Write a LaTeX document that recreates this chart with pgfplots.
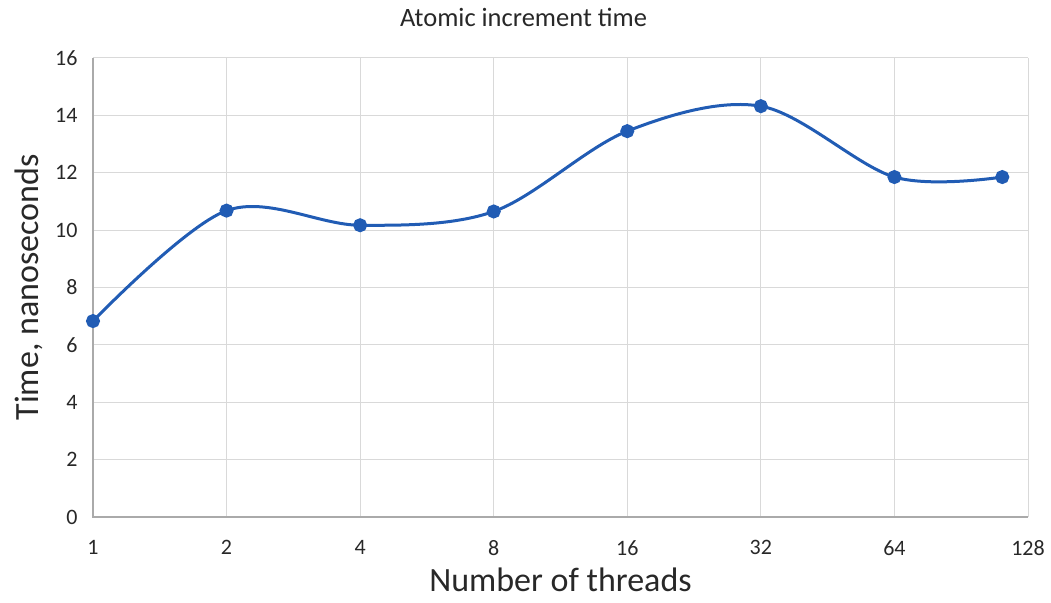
\documentclass[border=0pt]{standalone}
\usepackage{pgfplots}
\pgfplotsset{compat=1.18}
\usepackage{fontspec}
\setmainfont{Carlito}
\definecolor{lineblue}{RGB}{33,92,180}
\definecolor{gridgray}{RGB}{217,217,217}
\definecolor{axgray}{RGB}{170,170,170}
\definecolor{txt}{RGB}{40,40,40}
\begin{document}
\begin{tikzpicture}[x=1pt,y=1pt]
\useasboundingbox (-93,-85) rectangle (958,517);
\begin{axis}[
  at={(0,0)}, anchor=south west,
  scale only axis, width=935pt, height=459pt,
  xmode=log, log basis x=2,
  xmin=1, xmax=128, ymin=0, ymax=16,
  xtick={1,2,4,8,16,32,64,128},
  xticklabels={1,2,4,8,16,32,64,128},
  ytick={0,2,...,16},
  /pgf/number format/assume math mode=true,
  grid=major,
  major grid style={gridgray, line width=1pt},
  axis line style={draw=none},
  tick style={draw=none},
  tick label style={font=\fontsize{22}{26}\selectfont, text=txt},
  xticklabel style={yshift=-20pt},
  yticklabel style={xshift=-12pt},
  xlabel={Number of threads},
  ylabel={Time, nanoseconds},
  xlabel style={font=\fontsize{34}{34}\selectfont, text=txt, inner sep=0pt, yshift=-9pt},
  ylabel style={font=\fontsize{34}{40}\selectfont, text=txt, yshift=5pt},
  title={Atomic increment time},
  title style={font=\fontsize{26.5}{30}\selectfont, text=txt, yshift=22pt, xshift=-37pt},
  clip=false,
]
\draw[axgray, line width=1.3pt] (axis cs:1,16) -- (axis cs:1,0) -- (axis cs:128,0);
\addplot[lineblue, line width=3pt, smooth, tension=0.55, mark=*, mark size=5.5pt,
  mark options={fill=lineblue, draw=lineblue}] coordinates {
  (1,6.83) (2,10.68) (4,10.17) (8,10.65) (16,13.45) (32,14.32) (64,11.85) (112,11.85)
};
\end{axis}
\end{tikzpicture}
\end{document}
